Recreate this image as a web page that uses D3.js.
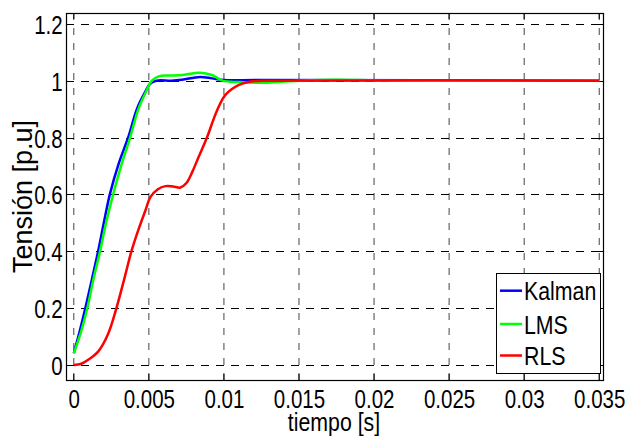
<!DOCTYPE html>
<html>
<head>
<meta charset="utf-8">
<script src="https://cdn.jsdelivr.net/npm/d3@7"></script>
<style>
  body { margin: 0; background: #fff; }
  .tickText, .legText, .xTitle, .yTitle { font-family: "Liberation Sans", Arial, sans-serif; fill: #000; }
  .tickText { font-size: 25px; }
  .legText { font-size: 26px; }
  .xTitle { font-size: 26px; }
  .yTitle { font-size: 27px; }
</style>
</head>
<body>
<div id="chart"></div>
<script>
// Data (time in seconds, voltage in p.u.)

var xTicks = [0, 0.005, 0.01, 0.015, 0.02, 0.025, 0.03, 0.035];
var xTickLabels = ['0', '0.005', '0.01', '0.015', '0.02', '0.025', '0.03', '0.035'];
var yTicks = [0, 0.2, 0.4, 0.6, 0.8, 1, 1.2];
var yTickLabels = ['0', '0.2', '0.4', '0.6', '0.8', '1', '1.2'];

var seriesNames = ['Kalman', 'LMS', 'RLS'];
var seriesColors = ['#0000ff', '#00ff00', '#ff0000'];

var kalmanT = [0, 0.0004, 0.00077, 0.0012, 0.00162, 0.002, 0.0024, 0.003, 0.00362, 0.0042, 0.0047, 0.0051, 0.0055, 0.0065, 0.0072, 0.0084, 0.0092, 0.01, 0.0124, 0.035];
var kalmanV = [0.041, 0.12, 0.2, 0.3, 0.4, 0.5, 0.6, 0.71, 0.8, 0.9, 0.955, 0.99, 1.0, 1.0, 1.003, 1.013, 1.008, 1.002, 1.002, 1.0];

var lmsT = [0, 0.0005, 0.0009, 0.0013, 0.00175, 0.00215, 0.00262, 0.00315, 0.00375, 0.0043, 0.0048, 0.0052, 0.0057, 0.0065, 0.0072, 0.0084, 0.0092, 0.0099, 0.011, 0.0129, 0.015, 0.0175, 0.02, 0.022, 0.035];
var lmsV = [0.041, 0.12, 0.2, 0.3, 0.4, 0.5, 0.6, 0.7, 0.8, 0.9, 0.96, 1.0, 1.016, 1.018, 1.02, 1.028, 1.02, 1.0, 0.995, 0.993, 1.0, 1.003, 1.001, 1.0, 1.0];

var rlsT = [0, 0.0005, 0.00095, 0.00162, 0.00229, 0.00284, 0.00335, 0.00384, 0.0043, 0.00478, 0.0051, 0.0056, 0.0061, 0.0066, 0.0071, 0.0075, 0.0079, 0.0083, 0.00887, 0.0095, 0.0101, 0.011, 0.0118, 0.013, 0.035];
var rlsV = [0, 0.004, 0.018, 0.047, 0.11, 0.2, 0.3, 0.4, 0.475, 0.545, 0.59, 0.618, 0.629, 0.628, 0.624, 0.64, 0.68, 0.73, 0.8, 0.89, 0.95, 0.985, 0.997, 1.0, 1.0];

// Set up the chart area

var svgWidth = 629;
var svgHeight = 436;
var mLeft = 66, mRight = 603, mTop = 13, mBottom = 380;
var squeeze = 'scale(0.82,1)';   // the original text is horizontally narrow

var svg = d3.select('#chart')
  .append('svg')
  .attr('width', svgWidth)
  .attr('height', svgHeight);

var x = d3.scaleLinear().domain([-0.00052, 0.03525]).range([mLeft, mRight]);
var y = d3.scaleLinear().domain([-0.053, 1.238]).range([mBottom, mTop]);

// grid lines
var grid = svg.append('g').attr('class', 'grid');

grid.selectAll('line.vgrid').data(xTicks).enter()
  .append('line')
  .attr('x1', function(d){ return x(d); })
  .attr('x2', function(d){ return x(d); })
  .attr('y1', mTop)
  .attr('y2', mBottom)
  .attr('stroke', '#444')
  .attr('stroke-width', 1)
  .attr('stroke-dasharray', '7,8');

grid.selectAll('line.hgrid').data(yTicks).enter()
  .append('line')
  .attr('x1', mLeft)
  .attr('x2', mRight)
  .attr('y1', function(d){ return Math.round(y(d)) + 0.5; })
  .attr('y2', function(d){ return Math.round(y(d)) + 0.5; })
  .attr('stroke', '#000')
  .attr('stroke-width', 1)
  .attr('stroke-dasharray', '8,7');

// axes (tick labels through d3 axes)
var bottomAxis = d3.axisBottom(x)
  .tickValues(xTicks)
  .tickSize(0)
  .tickPadding(0)
  .tickFormat(function(d, i){ return xTickLabels[i]; });

var leftAxis = d3.axisLeft(y)
  .tickValues(yTicks)
  .tickSize(0)
  .tickPadding(0)
  .tickFormat(function(d, i){ return yTickLabels[i]; });

var gx = svg.append('g')
  .attr('transform', 'translate(0,' + mBottom + ')')
  .call(bottomAxis);
gx.select('.domain').remove();
gx.selectAll('text')
  .attr('class', 'tickText')
  .attr('y', 28)
  .attr('dy', 0)
  .attr('transform', squeeze);

var gy = svg.append('g')
  .attr('transform', 'translate(' + mLeft + ',0)')
  .call(leftAxis);
gy.select('.domain').remove();
gy.selectAll('text')
  .attr('class', 'tickText')
  .attr('x', -4)
  .attr('dy', 9.5)
  .attr('transform', squeeze);
gx.attr('font-size', null).attr('font-family', null);
gy.attr('font-size', null).attr('font-family', null);

// inner tick marks
var ticks = svg.append('g').attr('stroke', '#000').attr('stroke-width', 1);
xTicks.forEach(function(d){
  ticks.append('line').attr('x1', x(d)).attr('x2', x(d)).attr('y1', mBottom).attr('y2', mBottom - 6);
  ticks.append('line').attr('x1', x(d)).attr('x2', x(d)).attr('y1', mTop).attr('y2', mTop + 6);
});
yTicks.forEach(function(d){
  var yy = Math.round(y(d)) + 0.5;
  ticks.append('line').attr('x1', mLeft).attr('x2', mLeft + 6).attr('y1', yy).attr('y2', yy);
  ticks.append('line').attr('x1', mRight).attr('x2', mRight - 6).attr('y1', yy).attr('y2', yy);
});

// series lines
var line = d3.line()
  .x(function(d){ return x(d[0]); })
  .y(function(d){ return y(d[1]); })
  .curve(d3.curveCatmullRom.alpha(0.5));

var series = [
  d3.zip(kalmanT, kalmanV),
  d3.zip(lmsT, lmsV),
  d3.zip(rlsT, rlsV)
];

svg.selectAll('path.series').data(series).enter()
  .append('path')
  .attr('class', 'series')
  .attr('d', line)
  .attr('fill', 'none')
  .attr('stroke', function(d, i){ return seriesColors[i]; })
  .attr('stroke-width', 2.5)
  .attr('stroke-linejoin', 'round');

// frame
svg.append('rect')
  .attr('x', mLeft + 0.5)
  .attr('y', mTop + 0.5)
  .attr('width', mRight - mLeft)
  .attr('height', mBottom - mTop)
  .attr('fill', 'none')
  .attr('stroke', '#000')
  .attr('stroke-width', 1.2);

// legend
var legend = svg.append('g');
legend.append('rect')
  .attr('x', 496.5)
  .attr('y', 273.5)
  .attr('width', 104)
  .attr('height', 100)
  .attr('fill', '#fff')
  .attr('stroke', '#000')
  .attr('stroke-width', 1);

var legendY = [290.7, 324, 355.5];
seriesNames.forEach(function(name, i){
  legend.append('line')
    .attr('x1', 500)
    .attr('x2', 522)
    .attr('y1', legendY[i])
    .attr('y2', legendY[i])
    .attr('stroke', seriesColors[i])
    .attr('stroke-width', 2.5);
  legend.append('text')
    .attr('class', 'legText')
    .attr('transform', 'translate(524,' + (legendY[i] + 9.5) + ')' + squeeze)
    .text(name);
});

// axis titles
svg.append('text')
  .attr('class', 'xTitle')
  .attr('transform', 'translate(334,431)' + squeeze)
  .attr('text-anchor', 'middle')
  .text('tiempo [s]');

svg.append('text')
  .attr('class', 'yTitle')
  .attr('transform', 'translate(31.5,' + ((mTop + mBottom) / 2) + ')rotate(-90)')
  .attr('text-anchor', 'middle')
  .text('Tensión [p.u]');
</script>
</body>
</html>
